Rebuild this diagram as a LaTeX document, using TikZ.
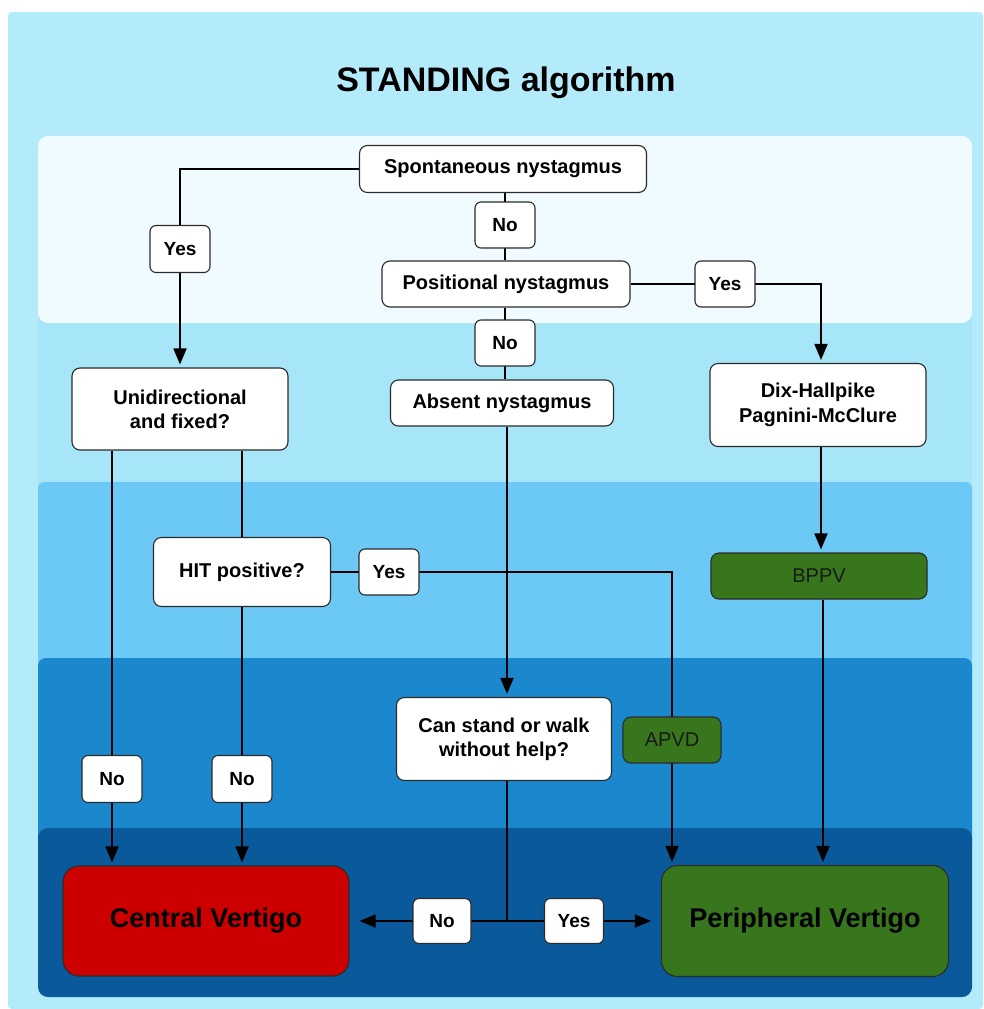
\documentclass[tikz,border=0pt]{standalone}
\usepackage{fontspec}
\setmainfont{Liberation Sans}
\usetikzlibrary{arrows.meta}
\pgfdeclarelayer{back}
\pgfdeclarelayer{mid}
\pgfsetlayers{back,mid,main}
\definecolor{outerc}{HTML}{B3EBFB}
\definecolor{bandA}{HTML}{EFFBFE}
\definecolor{bandB}{HTML}{A7E5F9}
\definecolor{bandC}{HTML}{6CC8F5}
\definecolor{bandD}{HTML}{1B87CC}
\definecolor{bandE}{HTML}{0A5A9B}
\definecolor{okgreen}{HTML}{38761D}
\definecolor{badred}{HTML}{CC0000}
\definecolor{edgec}{HTML}{2B2B2B}
\tikzset{
  box/.style={rectangle, rounded corners=8pt, draw=edgec, line width=1.1pt, fill=white,
    align=center, inner sep=0pt, font=\bfseries\fontsize{20}{24}\selectfont},
  lbl/.style={box, rounded corners=6pt, minimum width=60pt, minimum height=46pt,
    font=\bfseries\fontsize{19}{24}\selectfont},
  greenbox/.style={box, fill=okgreen, font=\fontsize{20}{24}\selectfont, text=black!90},
  bigbox/.style={box, rounded corners=16pt, font=\bfseries\fontsize{27}{30}\selectfont,
    minimum width=287pt, minimum height=111pt},
  conn/.style={line width=1.8pt, draw=black},
  arr/.style={conn, -{Triangle[length=16pt,width=13pt]}, shorten >=3pt},
  harr/.style={conn, -{Triangle[length=16pt,width=13pt]}, shorten >=10pt}
}
\begin{document}
\begin{tikzpicture}[x=1pt,y=-1pt]
\useasboundingbox (0,0) rectangle (983,1009);
\begin{pgfonlayer}{back}
  \fill[white] (0,0) rectangle (983,1009);
  \fill[outerc, rounded corners=4pt] (8,12) rectangle (983,1009);
  \fill[bandB] (38,300) rectangle (972,500);
  \fill[bandA, rounded corners=10pt] (38,136) rectangle (972,323);
  \fill[bandC, rounded corners=6pt] (38,482) rectangle (972,680);
  \fill[bandD, rounded corners=8pt] (38,658) rectangle (972,850);
  \fill[bandE, rounded corners=10pt] (38,828) rectangle (972,997);
\end{pgfonlayer}

\node[font=\bfseries\fontsize{34}{38}\selectfont] (title) at (506,83) {STANDING algorithm};

\node[box, minimum width=287pt, minimum height=47pt] (spont) at (503,169) {Spontaneous nystagmus};
\node[lbl] (no1) at (505,225) {No};
\node[box, minimum width=248pt, minimum height=46pt] (pos) at (506,284) {Positional nystagmus};
\node[lbl] (yesP) at (725,284) {Yes};
\node[lbl, minimum height=47pt] (yesL) at (180,249) {Yes};
\node[lbl] (no2) at (505,343) {No};
\node[box, minimum width=216pt, minimum height=82pt] (uni) at (180,409) {Unidirectional\\and fixed?};
\node[box, minimum width=223pt, minimum height=46pt] (absent) at (502,403) {Absent nystagmus};
\node[box, minimum width=216pt, minimum height=83pt, font=\bfseries\fontsize{20}{25}\selectfont] (dix) at (818,405) {Dix-Hallpike\\Pagnini-McClure};
\node[box, minimum width=177pt, minimum height=69pt] (hit) at (242,572) {HIT positive?};
\node[lbl] (yesH) at (389,572) {Yes};
\node[greenbox, minimum width=216pt, minimum height=46pt] (bppv) at (819,576) {BPPV};
\node[box, minimum width=215pt, minimum height=83pt] (can) at (504,739) {Can stand or walk\\without help?};
\node[greenbox, minimum width=98pt, minimum height=46pt] (apvd) at (672,740) {APVD};
\node[lbl, minimum height=47pt] (noA) at (112,779) {No};
\node[lbl, minimum height=47pt] (noB) at (242,779) {No};
\node[bigbox, fill=badred, minimum width=286pt, minimum height=110pt] (central) at (206,921) {Central Vertigo};
\node[bigbox, fill=okgreen] (periph) at (805,921) {Peripheral Vertigo};
\node[lbl, minimum width=58pt, minimum height=45pt] (noC) at (442,921) {No};
\node[lbl, minimum width=59pt, minimum height=45pt] (yesC) at (574,921) {Yes};

\begin{pgfonlayer}{mid}
  \draw[arr] (spont.west) -| (uni.north);
  \draw[conn] (no1.center |- spont.south) -- (no1.center |- pos.north);
  \draw[arr] (pos.east) -| (dix.north -| 821,0);
  \draw[conn] (no2.center |- pos.south) -- (no2.center |- absent.north);
  \draw[arr] (absent.south -| 507,0) -- (can.north -| 507,0);
  \draw[arr] (uni.south -| noA.center) -- (noA.center |- central.north);
  \draw[conn] (uni.south -| hit.north) -- (hit.north);
  \draw[arr] (hit.south) -- (hit.south |- central.north);
  \draw[arr] (hit.east) -| (apvd.center |- periph.north);
  \draw[arr] (dix.south -| 821,0) -- (bppv.north -| 821,0);
  \draw[arr] (bppv.south -| 823,0) -- (periph.north -| 823,0);
  \draw[harr] (can.south -| 507,0) |- (central.east);
  \draw[harr] (can.south -| 507,0) |- (periph.west);
\end{pgfonlayer}
\end{tikzpicture}
\end{document}
